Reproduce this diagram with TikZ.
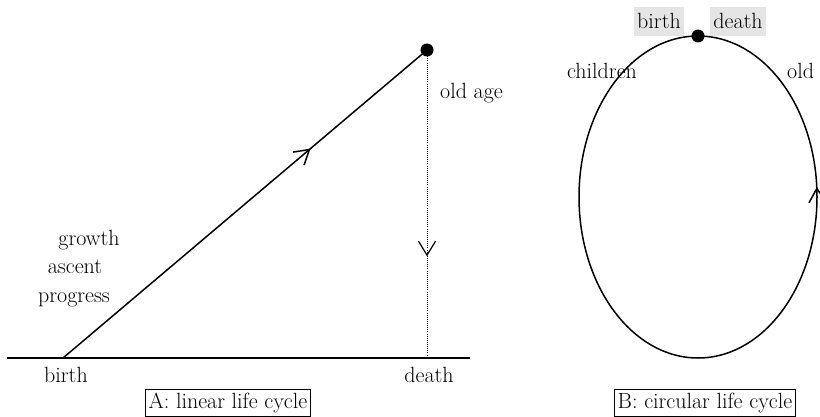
\documentclass[tikz,border=0pt]{standalone}
\usetikzlibrary{arrows.meta,decorations.markings}
\begin{document}
\begin{tikzpicture}[x=1pt,y=1pt,
  every node/.style={font=\fontsize{22}{26}\selectfont, inner sep=0pt},
  lbl/.style={anchor=base},
  capbox/.style={draw, line width=0.8pt, inner sep=3.5pt, anchor=base},
  graybox/.style={fill=black!10, inner xsep=3.5pt, inner ysep=7pt, anchor=base},
  mainline/.style={line width=1.5pt},
  dotline/.style={line width=1pt, dash pattern=on 1pt off 1.1pt},
  bigdot/.style={circle, fill=black, inner sep=0pt, minimum size=13pt},
  >={Straight Barb[length=14pt,width=17pt]}
]
\useasboundingbox (0,0) rectangle (820,416);
\clip (0,0) rectangle (820,416);
% ---------- A: linear ----------
\coordinate (axl) at (7,58);
\coordinate (axr) at (470,58);
\coordinate (b0) at (63,58);
\coordinate (d0) at (427,58);
\coordinate (topc) at (427,366);
\draw[mainline] (axl) -- (axr);
\draw[mainline, postaction={decorate},
  decoration={markings, mark=at position 0.68 with {\arrow[line width=1.5pt]{>}}}]
  (b0) -- (topc);
\draw[dotline, postaction={decorate},
  decoration={markings, mark=at position 0.67 with {\arrow[line width=1.2pt]{>}}}]
  (topc) -- (d0);
\node[bigdot] (top) at (topc) {};
\node[lbl] (lbirth) at (66,34) {birth};
\node[lbl] (ldeath) at (429,34) {death};
\node[anchor=base west] (lold) at (440,317) {old age};
\node[lbl] (lgrowth) at (89,171) {growth};
\node[lbl] (lascent) at (75,143) {ascent};
\node[lbl] (lprogress) at (74,114) {progress};
\node[capbox] (capA) at (228,8) {A: linear life cycle};
% ---------- B: circular ----------
\coordinate (ec) at (698,219);
\draw[mainline, postaction={decorate},
  decoration={markings, mark=at position 10pt with {\arrow[line width=1.5pt]{>}}}]
  (ec) ellipse [x radius=119pt, y radius=161pt];
\node[bigdot] (cdot) at (698,380) {};
\node[graybox] (cbirth) at (659,387) {birth};
\node[graybox] (cdeath) at (738,387) {death};
\node[lbl] (cchildren) at (602,337) {children};
\node[anchor=base west] (cold) at (787,337) {old};
\node[capbox] (capB) at (705,8) {B: circular life cycle};
\end{tikzpicture}
\end{document}
